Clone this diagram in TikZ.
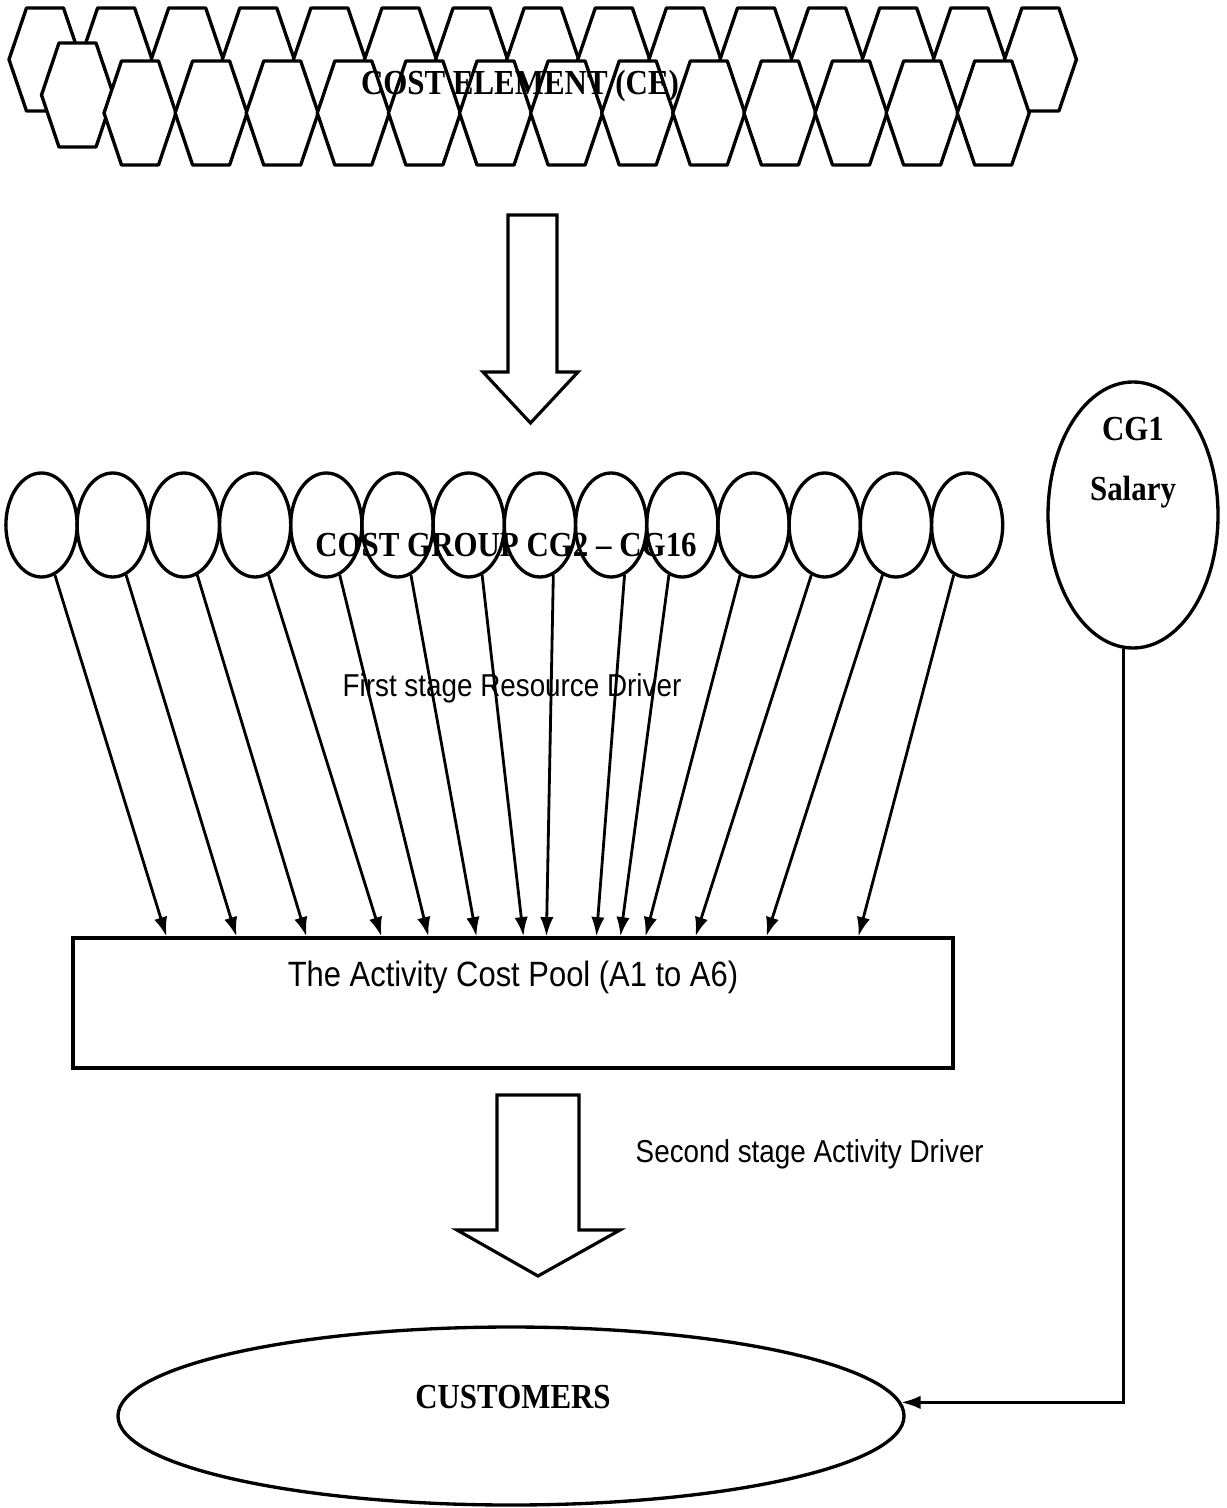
\documentclass[tikz,border=0pt]{standalone}
\usepackage{fontspec}
\setmainfont{Liberation Serif}
\newfontfamily\narrowserif{Liberation Serif}[FakeStretch=0.88]
\newfontfamily\narrowsans{Liberation Sans}[FakeStretch=0.88]
\usetikzlibrary{arrows.meta, positioning, calc, shapes.geometric}

\begin{document}
\begin{tikzpicture}[
            x=1cm, y=1cm,
            >={Latex[length=5.5pt, width=3.8pt]},
            hexa/.style  ={draw, fill=white, line width=0.95pt, line join=round},
            grp/.style   ={draw, shape=ellipse, inner sep=0pt, line width=0.95pt,
                           minimum width=0.712cm, minimum height=1.04cm},
            bigell/.style={draw, shape=ellipse, inner sep=0pt, line width=0.95pt},
            blk/.style   ={draw, fill=white, line width=0.9pt},
            pbox/.style  ={draw, line width=0.9pt, inner sep=0pt},
            hd/.style    ={font=\narrowserif\bfseries\fontsize{10}{12}\selectfont, inner sep=0pt, anchor=base},
            drv/.style   ={font=\narrowsans\fontsize{9}{11}\selectfont, inner sep=0pt, anchor=base},
            arr/.style   ={->, line width=0.8pt}
        ]
        \useasboundingbox (0,0) rectangle (12.26,-15.08);

        %% ---- cost elements: two rows of hexagons ------------------------------
        \foreach \k in {0,...,14}{
            \pgfmathsetmacro\cx{0.45+0.711*\k}
            \draw[hexa] ({\cx-0.36},-0.595) -- ++(0.175,0.515) -- ++(0.37,0)
                -- ++(0.175,-0.515) -- ++(-0.175,-0.515) -- ++(-0.37,0) -- cycle;
        }
        % the first one of the lower row sits a little higher
        \draw[hexa] (0.415,-0.95) -- ++(0.175,0.52) -- ++(0.37,0)
            -- ++(0.175,-0.52) -- ++(-0.175,-0.52) -- ++(-0.37,0) -- cycle;
        \foreach \k in {0,...,12}{
            \pgfmathsetmacro\cx{1.40+0.711*\k}
            \draw[hexa] ({\cx-0.36},-1.13) -- ++(0.175,0.52) -- ++(0.37,0)
                -- ++(0.175,-0.52) -- ++(-0.175,-0.52) -- ++(-0.37,0) -- cycle;
        }
        \node[hd] (ce) at (5.20,-0.95) {COST ELEMENT (CE)};

        % block arrow down to the cost groups
        \draw[blk] (5.08,-2.15) -- (5.57,-2.15) -- (5.57,-3.72) -- (5.78,-3.72)
            -- (5.305,-4.23) -- (4.83,-3.72) -- (5.08,-3.72) -- cycle;

        %% ---- cost groups -------------------------------------------------------
        \foreach \k in {1,...,14}
            \node[grp] (g\k) at ({0.415+0.712*(\k-1)},-5.25) {};
        \node[hd] (cgtxt) at (5.06,-5.57) {COST GROUP CG2 – CG16};

        \node[bigell, minimum width=1.70cm, minimum height=2.66cm] (cg1) at (11.33,-5.15) {};
        \node[hd] (cg1a) at (11.33,-4.41) {CG1};
        \node[hd] (cg1b) at (11.33,-5.01) {Salary};

        \node[drv] (drv1) at (5.12,-6.96) {First stage Resource Driver};

        %% ---- activity cost pool ------------------------------------------------
        \node[pbox, minimum width=8.80cm, minimum height=1.30cm] (pool) at (5.13,-10.03) {};
        \node[drv, font=\narrowsans\fontsize{10}{12}\selectfont] (pooltxt)
            at ([yshift=-0.50cm]pool.north) {The Activity Cost Pool (A1 to A6)};

        % first stage arrows
        \foreach \k/\a/\d in {1/-75/0.95, 2/-75/1.65, 3/-75/2.35, 4/-75/3.10, 5/-75/3.57,
                              6/-75/4.05, 7/-75/4.52, 8/-75/4.75, 9/-75/5.25, 10/-105/5.49,
                              11/-105/5.74, 12/-105/6.24, 13/-105/6.95, 14/-105/7.87}
            \draw[arr] (g\k.\a) -- ([xshift=\d cm]pool.north west);

        % block arrow down to the customers
        \draw[blk] (4.97,-10.95) -- (5.79,-10.95) -- (5.79,-12.30) -- (6.20,-12.30)
            -- (5.38,-12.76) -- (4.57,-12.30) -- (4.97,-12.30) -- cycle;
        \node[drv, anchor=base west] (drv2) at (6.35,-11.62) {Second stage Activity Driver};

        %% ---- customers ---------------------------------------------------------
        \node[bigell, minimum width=7.86cm, minimum height=1.78cm] (cust) at (5.11,-14.16) {};
        \node[hd] (custtxt) at (5.13,-14.08) {CUSTOMERS};

        \draw[arr] (cg1.-94) |- (cust.2);
    \end{tikzpicture}
\end{document}
